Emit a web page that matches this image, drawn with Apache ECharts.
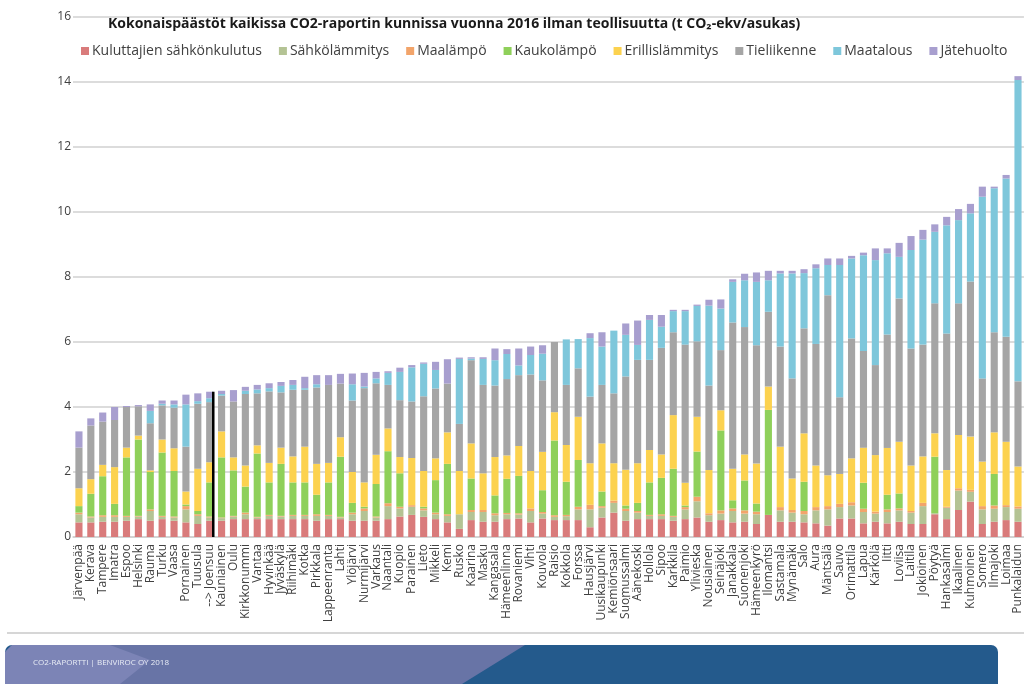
<!DOCTYPE html>
<html>
<head>
<meta charset="utf-8">
<script src="https://cdn.jsdelivr.net/npm/echarts@6/dist/echarts.min.js"></script>
<style>
html,body{margin:0;padding:0;background:#fff;}
#chart{width:1024px;height:684px;}
</style>
</head>
<body>
<div id="chart"></div>
<script>
const categories = ["Järvenpää","Kerava","Tampere","Imatra","Espoo","Helsinki","Rauma","Turku","Vaasa","Pornainen","Tuusula","--> Joensuu","Kauniainen","Oulu","Kirkkonummi","Vantaa","Hyvinkää","Jyväskylä","Riihimäki","Kotka","Pirkkala","Lappeenranta","Lahti","Ylöjärvi","Nurmijärvi","Varkaus","Naantali","Kuopio","Parainen","Lieto","Mikkeli","Kemi","Rusko","Kaarina","Masku","Kangasala","Hämeenlinna","Rovaniemi","Vihti","Kouvola","Raisio","Kokkola","Forssa","Hausjärvi","Uusikaupunki","Kemiönsaari","Suomussalmi","Äänekoski","Hollola","Sipoo","Karkkila","Paimio","Ylivieska","Nousiainen","Seinäjoki","Janakkala","Suonenjoki","Hämeenkyrö","Ilomantsi","Sastamala","Mynämäki","Salo","Aura","Mäntsälä","Sauvo","Orimattila","Lapua","Kärkölä","Iitti","Loviisa","Laitila","Jokioinen","Pöytyä","Hankasalmi","Ikaalinen","Kuhmoinen","Somero","Ilmajoki","Loimaa","Punkalaidun"];

const kuluttajien = [0.45,0.45,0.47,0.47,0.5,0.55,0.5,0.55,0.5,0.45,0.4,0.5,0.5,0.55,0.55,0.55,0.55,0.55,0.55,0.55,0.5,0.55,0.55,0.5,0.5,0.5,0.55,0.63,0.68,0.62,0.55,0.45,0.25,0.52,0.47,0.47,0.55,0.57,0.45,0.57,0.52,0.52,0.52,0.3,0.6,0.75,0.5,0.55,0.55,0.55,0.5,0.55,0.6,0.47,0.52,0.45,0.47,0.4,0.68,0.47,0.47,0.45,0.42,0.35,0.57,0.57,0.42,0.47,0.42,0.47,0.4,0.4,0.7,0.55,0.83,1.09,0.4,0.47,0.52,0.47];
const sahkolammitys = [0.25,0.15,0.15,0.15,0.12,0.08,0.3,0.07,0.1,0.4,0.25,0.1,0.08,0.08,0.15,0.05,0.1,0.08,0.1,0.1,0.15,0.1,0.05,0.2,0.3,0.1,0.4,0.25,0.25,0.2,0.15,0.2,0.45,0.25,0.3,0.2,0.15,0.12,0.35,0.15,0.1,0.12,0.33,0.55,0.3,0.3,0.3,0.2,0.1,0.1,0.12,0.3,0.5,0.2,0.2,0.35,0.25,0.3,0,0.35,0.28,0.25,0.4,0.5,0.35,0.4,0.35,0.25,0.35,0.35,0.35,0.55,0.03,0.35,0.6,0.3,0.45,0.4,0.4,0.4];
const maalampo = [0.05,0.03,0.05,0.05,0.03,0.02,0.05,0.03,0.03,0.1,0.05,0.03,0.02,0.02,0.05,0.02,0.03,0.02,0.03,0.03,0.05,0.03,0.02,0.05,0.08,0.03,0.09,0.05,0.05,0.06,0.05,0.05,0,0.06,0.06,0.06,0.04,0.04,0.08,0.05,0.05,0.04,0.08,0.14,0.05,0.07,0.07,0.05,0.03,0.05,0.03,0.07,0.14,0.06,0.1,0.08,0.1,0.08,0,0.1,0.08,0.1,0.1,0.1,0.1,0.1,0.1,0.06,0.08,0.06,0.05,0.1,0,0.03,0.07,0.06,0.1,0.1,0.06,0.07];
const kaukolampo = [0.2,0.7,1.2,0.35,1.8,2.35,1.15,1.95,1.4,0.05,0.1,1.05,1.85,1.4,0.8,1.95,1.0,1.6,1.0,1.0,0.6,1.0,1.85,0.3,0.05,1.0,1.6,1.03,0,0.05,1.0,1.55,0,0.97,0,0.55,1.05,1.15,0,0.67,2.3,1.02,1.44,0,0.45,0,0.1,0.25,1.0,1.12,1.45,0.05,1.39,0,2.46,0.25,0.92,0.25,3.23,0,0,0.9,0,0,0,0,0.8,0,0.45,0.46,0,0,1.74,0,0,0,0,0.97,0,0];
const erillislammitys = [0.55,0.45,0.35,1.13,0.3,0.12,0.05,0.4,0.7,0.4,1.3,0.62,0.8,0.4,0.65,0.25,0.6,0.5,0.8,1.1,0.95,0.6,0.6,0.95,0.75,0.9,0.7,0.5,1.45,1.1,0.67,0.97,1.33,1.08,1.13,1.18,0.72,0.92,1.15,1.18,0.87,1.13,1.33,1.28,1.48,1.15,1.1,1.22,1.0,0.72,1.65,0.7,1.07,1.33,0.62,0.97,0.8,1.23,0.72,1.86,0.97,1.49,1.28,0.95,0.92,1.35,1.08,1.74,1.44,1.59,1.4,1.43,0.72,1.13,1.64,1.64,1.37,1.28,1.95,1.23];
const tieliikenne = [1.25,1.65,1.33,1.45,1.25,0.9,1.45,1.05,1.25,1.38,2.0,1.85,1.1,1.72,2.2,1.6,2.2,1.7,2.05,1.75,2.35,2.4,1.65,2.2,2.9,2.2,1.34,1.75,1.74,2.3,2.15,1.5,1.45,2.56,2.72,2.2,2.35,2.18,2.97,2.2,2.16,1.85,1.49,2.05,1.8,2.15,2.87,3.18,2.77,3.28,2.55,4.25,2.32,2.6,1.85,4.5,3.92,3.64,2.3,3.08,3.08,3.23,3.74,5.54,2.36,3.69,2.97,2.77,3.49,4.41,3.6,3.44,4.0,4.2,4.05,4.77,2.56,3.08,3.23,2.62];
const maatalous = [0,0,0,0,0,0,0.38,0.05,0.1,1.3,0.08,0.12,0.05,0,0.1,0.12,0.1,0.2,0.15,0.05,0.1,0,0,0.5,0.05,0.15,0.37,0.87,1.05,1.0,0.57,0,2.0,0.05,0.8,0.78,0.77,0.3,0.6,0.82,0,1.4,0.9,1.8,1.18,1.93,1.28,0.46,1.23,0.65,0.65,1.03,1.09,2.46,1.28,1.25,1.44,1.95,0.97,2.25,3.23,1.7,2.33,0.93,4.07,2.46,2.95,3.23,2.5,1.28,3.03,3.23,2.2,3.33,2.56,2.1,5.59,4.43,4.87,9.27];
const jatehuolto = [0.5,0.22,0.28,0.4,0.03,0.04,0.2,0.1,0.12,0.3,0.24,0.2,0.1,0.35,0.12,0.14,0.15,0.12,0.15,0.35,0.28,0.3,0.3,0.33,0.42,0.2,0.05,0.13,0.07,0.04,0.25,0.75,0.04,0.04,0.05,0.36,0.15,0.52,0.26,0.26,0,0,0,0.15,0.44,0,0.35,0.75,0.15,0.36,0.04,0.04,0.04,0.18,0.28,0.08,0.2,0.29,0.29,0.08,0.08,0.12,0.12,0.2,0.2,0.08,0.08,0.36,0.15,0.43,0.43,0.3,0.23,0.26,0.34,0.29,0.31,0.05,0.11,0.12];

const yMin = 0, yMax = 16, yInterval = 2;
const markedCategory = "--> Joensuu";

const seriesDefs = [
  ["Kuluttajien sähkönkulutus", kuluttajien, "#d97b7b"],
  ["Sähkölämmitys", sahkolammitys, "#b4c394"],
  ["Maalämpö", maalampo, "#f2a46a"],
  ["Kaukolämpö", kaukolampo, "#8fd05a"],
  ["Erillislämmitys", erillislammitys, "#fcd24f"],
  ["Tieliikenne", tieliikenne, "#a5a5a5"],
  ["Maatalous", maatalous, "#7ec7db"],
  ["Jätehuolto", jatehuolto, "#a89fcf"]
];

const markIdx = categories.indexOf(markedCategory);
const markTotal = seriesDefs.reduce((s, d) => s + d[1][markIdx], 0);

const chart = echarts.init(document.getElementById('chart'), null, {renderer: 'canvas'});
const font = "'Open Sans', 'Noto Sans', sans-serif";

const series = seriesDefs.map(d => ({
  name: d[0], type: 'bar', stack: 'total', data: d[1], barWidth: '60%',
  itemStyle: {color: d[2]}, emphasis: {disabled: true}
}));
series.push({
  type: 'custom', name: 'mark', silent: true, z: 10,
  data: [[markIdx, markTotal]],
  renderItem: function (params, api) {
    const p0 = api.coord([api.value(0), 0]);
    const p1 = api.coord([api.value(0), api.value(1)]);
    const off = api.size([1, 0])[0] * 0.3;
    return {type: 'line', shape: {x1: p0[0] + off, y1: p0[1], x2: p1[0] + off, y2: p1[1]},
      style: {stroke: '#000', lineWidth: 2.5}};
  }
});

chart.setOption({
  animation: false,
  backgroundColor: '#ffffff',
  title: {
    text: 'Kokonaispäästöt kaikissa CO2-raportin kunnissa vuonna 2016 ilman teollisuutta (t CO₂-ekv/asukas)',
    left: 103, top: 12,
    textStyle: {fontFamily: font, fontSize: 14, fontWeight: 'bold', color: '#1a1a1a'}
  },
  legend: {
    data: seriesDefs.map(d => d[0]),
    left: 76, top: 39, itemWidth: 8, itemHeight: 8, itemGap: 17, icon: 'rect',
    textStyle: {fontFamily: font, fontSize: 14, color: '#404040', padding: [0, 0, 0, -2]}
  },
  grid: {left: 73, right: 0, top: 17, bottom: 147, containLabel: false},
  xAxis: {
    type: 'category', data: categories,
    axisLine: {show: true, lineStyle: {color: '#d0d0d0', width: 1.5}},
    axisTick: {show: false},
    axisLabel: {interval: 0, rotate: 90, fontFamily: font, fontSize: 12, color: '#404040', margin: 7}
  },
  yAxis: {
    type: 'value', min: yMin, max: yMax, interval: yInterval,
    axisLine: {show: false}, axisTick: {show: false},
    axisLabel: {fontFamily: font, fontSize: 12, color: '#404040', margin: 2},
    splitLine: {lineStyle: {color: '#d0d0d0', width: 1.5}}
  },
  series: series,
  graphic: [
    {type: 'line', shape: {x1: 7, y1: 633, x2: 1024, y2: 633}, style: {stroke: '#c8c8c8', lineWidth: 1.5}},
    {type: 'rect', shape: {x: 5, y: 645, width: 993, height: 50, r: 7}, style: {fill: '#245a8c'}},
    {type: 'polygon', shape: {points: [[12, 645], [525, 645], [462, 684], [5, 684], [5, 652]]}, style: {fill: '#6874a6'}},
    {type: 'polygon', shape: {points: [[12, 645], [110, 645], [150, 660], [120, 684], [5, 684], [5, 652]]}, style: {fill: '#7c84b6'}},
    {type: 'text', left: 33, top: 659, style: {text: 'CO2-RAPORTTI | BENVIROC OY 2018', fill: '#e8ecf5', font: "8px 'Open Sans', sans-serif"}}
  ]
});
</script>
</body>
</html>
